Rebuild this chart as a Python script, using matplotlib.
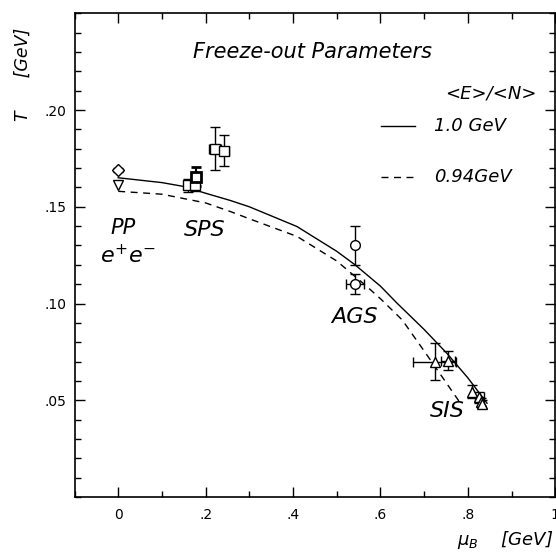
import matplotlib
matplotlib.use("Agg")
import matplotlib.pyplot as plt
from matplotlib.ticker import FixedLocator, MultipleLocator, FixedFormatter

# ---- data ----
pp_mu = [0.0]
pp_T = [0.169]
ee_mu = [0.0]
ee_T = [0.161]

sps_mu = [0.160, 0.175, 0.222, 0.243]
sps_T = [0.161, 0.161, 0.180, 0.179]
sps_Terr = [0.0035, 0.003, 0.011, 0.008]
sps_muerr = [0.008, 0.005, 0.014, 0.011]
sps_bold_mu = [0.178]
sps_bold_T = [0.1655]
sps_bold_Terr = [0.005]

ags_mu = [0.542, 0.542]
ags_T = [0.130, 0.110]
ags_Terr = [0.010, 0.005]
ags_muerr = [0.0, 0.02]

sis_mu = [0.724, 0.754, 0.809, 0.826, 0.830, 0.832]
sis_T = [0.070, 0.0705, 0.0545, 0.0515, 0.049, 0.048]
sis_Terr = [0.0095, 0.005, 0.0035, 0.003, 0.002, 0.002]
sis_muerr = [0.05, 0.016, 0.0, 0.01, 0.0, 0.0]

solid_mu = [0.0, 0.1, 0.15, 0.2, 0.256, 0.3, 0.409, 0.5, 0.542, 0.6, 0.638,
            0.7, 0.752, 0.8, 0.844]
solid_T = [0.165, 0.1625, 0.1605, 0.157, 0.1533, 0.150, 0.1398, 0.127, 0.120,
           0.109, 0.1002, 0.0866, 0.0743, 0.0616, 0.0485]
dash_mu = [0.0, 0.1, 0.2, 0.256, 0.3, 0.409, 0.5, 0.569, 0.6, 0.65, 0.7, 0.74, 0.783]
dash_T = [0.158, 0.1565, 0.152, 0.1476, 0.1438, 0.1347, 0.122, 0.1088, 0.1025,
          0.0915, 0.0755, 0.0625, 0.0485]

x_ticks = [0.0, 0.2, 0.4, 0.6, 0.8, 1.0]
x_ticklabels = ["0", ".2", ".4", ".6", ".8", "1"]
y_ticks = [0.05, 0.10, 0.15, 0.20]
y_ticklabels = [".05", ".10", ".15", ".20"]

plt.rcParams["font.family"] = ["DejaVu Sans"]
plt.rcParams["mathtext.fontset"] = "custom"
plt.rcParams["mathtext.it"] = "DejaVu Sans:italic"
plt.rcParams["mathtext.rm"] = "DejaVu Sans"
plt.rcParams["mathtext.default"] = "it"

W, H = 556, 553
fig = plt.figure(figsize=(W / 100, H / 100), dpi=100)
ax = fig.add_axes([74.5 / W, (H - 497) / H, 480.7 / W, 483.7 / H])
ax.set_xlim(-0.1, 1.0)
ax.set_ylim(0.0, 0.25)

tf = dict(style="italic", weight=200)

ax.plot(solid_mu, solid_T, color="black", lw=1.0)
ax.plot(dash_mu, dash_T, color="black", lw=1.0, dashes=(5, 4))

ekw = dict(color="black", elinewidth=1.0, capsize=3.5, capthick=1.0, ls="none",
           mfc="white", mec="black", mew=1.0)
ax.errorbar(pp_mu, pp_T, yerr=[0.001], fmt="D", ms=6, **ekw)
ax.errorbar(ee_mu, ee_T, fmt="v", ms=7, **ekw)
ax.errorbar(sps_mu, sps_T, yerr=sps_Terr, xerr=sps_muerr, fmt="s", ms=7, **ekw)
ekw_b = dict(ekw)
ekw_b["mew"] = 2.0
ekw_b["elinewidth"] = 1.5
ax.errorbar(sps_bold_mu, sps_bold_T, yerr=sps_bold_Terr, fmt="s", ms=7, **ekw_b)
ax.errorbar(ags_mu, ags_T, yerr=ags_Terr, xerr=ags_muerr, fmt="o", ms=7, **ekw)
ax.errorbar(sis_mu, sis_T, yerr=sis_Terr, xerr=sis_muerr, fmt="^", ms=7, **ekw)

# ticks
ax.xaxis.set_major_locator(FixedLocator(x_ticks))
ax.xaxis.set_major_formatter(FixedFormatter(x_ticklabels))
ax.xaxis.set_minor_locator(MultipleLocator(0.1))
ax.yaxis.set_major_locator(FixedLocator(y_ticks))
ax.yaxis.set_major_formatter(FixedFormatter(y_ticklabels))
ax.yaxis.set_minor_locator(MultipleLocator(0.01))
ax.tick_params(which="both", direction="in", top=True, right=True, width=1.0,
               labelsize=10, colors="black")
ax.tick_params(which="major", length=7)
ax.tick_params(which="minor", length=4)
ax.tick_params(axis="x", pad=8)
ax.tick_params(axis="y", pad=6)
for s in ax.spines.values():
    s.set_linewidth(1.2)

# texts
ax.text(0.445, 0.230, "Freeze-out Parameters", fontsize=15, ha="center", va="center", **tf)
ax.text(0.852, 0.2085, "<E>/<N>", fontsize=13, ha="center", va="center", **tf)
ax.plot([0.602, 0.680], [0.1919, 0.1919], color="black", lw=1.0)
ax.text(0.723, 0.1919, "1.0 GeV", fontsize=13, ha="left", va="center", **tf)
ax.plot([0.602, 0.680], [0.1655, 0.1655], color="black", lw=1.0, dashes=(5, 4))
ax.text(0.723, 0.1655, "0.94GeV", fontsize=13, ha="left", va="center", **tf)

ax.text(0.011, 0.139, "PP", fontsize=15, ha="center", va="center", **tf)
ax.text(0.023, 0.1247, r"$e^{+}e^{-}$", fontsize=16, ha="center", va="center", **tf)
ax.text(0.199, 0.138, "SPS", fontsize=16, ha="center", va="center", **tf)
ax.text(0.540, 0.0931, "AGS", fontsize=16, ha="center", va="center", **tf)
ax.text(0.753, 0.0445, "SIS", fontsize=16, ha="center", va="center", **tf)

fig.text(23 / W, 1 - 74 / H, "T      [GeV]", rotation=90, fontsize=12.5, ha="center", va="center", **tf)
fig.text(553 / W, 1 - 540 / H, r"$\mu_B$    [GeV]", fontsize=13, ha="right", va="center", **tf)

fig.savefig("out.png", dpi=100)
